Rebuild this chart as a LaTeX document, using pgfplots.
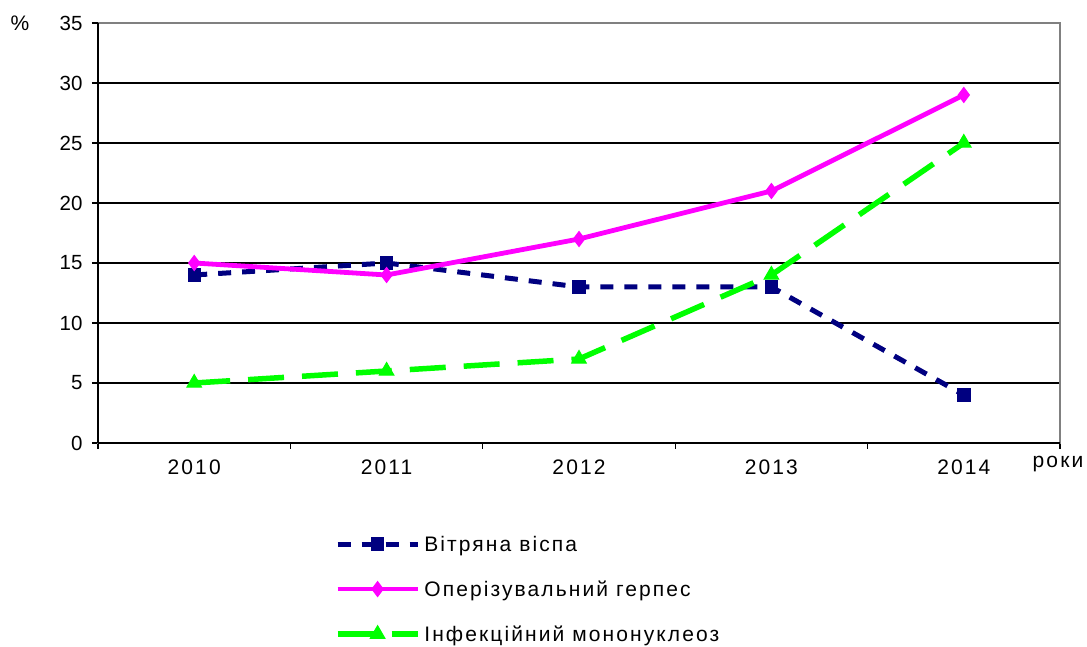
\documentclass[border=0pt]{standalone}
\usepackage{pgfplots}
\pgfplotsset{compat=1.18}
\usepackage{fontspec}
\setmainfont{Liberation Sans}
\newfontfamily\spacedx{Liberation Sans}[LetterSpace=10]
\newfontfamily\spacedl{Liberation Sans}[LetterSpace=10]
\definecolor{navyc}{RGB}{0,0,128}
\definecolor{magc}{RGB}{255,0,255}
\definecolor{grnc}{RGB}{0,255,0}
\begin{document}
\begin{tikzpicture}[x=1pt,y=1pt]
\path[use as bounding box] (0,0) rectangle (1087,647);
\begin{axis}[at={(98pt,204pt)}, anchor=south west, scale only axis,
  width=962pt, height=420pt,
  xmin=-0.5, xmax=4.5, ymin=0, ymax=35,
  xtick={0,...,4}, xticklabels={2010,2011,2012,2013,2014},
  major x tick style={draw=none},
  minor xtick={-0.5,0.5,...,4.5},
  ytick={0,5,...,30}, extra y ticks={35}, extra y tick style={grid=none},
  ymajorgrids, grid style={black, line width=1.3pt},
  axis line style={gray, line width=1.3pt},
  tick align=outside, xtick pos=bottom, ytick pos=left,
  major tick length=6pt, minor tick length=6pt,
  tick style={black, line width=1.3pt},
  /pgf/number format/assume math mode=true,
  yticklabel style={font=\fontsize{20.5}{24}\selectfont, xshift=-6pt},
  xticklabel style={font=\spacedx\fontsize{21}{24}\selectfont, yshift=-7pt},
  legend style={at={(0.246,-0.211)}, anchor=north west, draw=none, fill=none,
    font=\spacedl\fontsize{21}{24}\selectfont, row sep=24pt, cells={anchor=west},
    inner xsep=0pt, /tikz/every odd column/.append style={column sep=2pt}},
  legend cell align=left,
  legend image code/.code={\draw[mark repeat=2,mark phase=2,#1] plot coordinates {(0pt,0pt) (40pt,0pt) (80pt,0pt)};},
  clip=false,
]
\draw[black, line width=1.3pt] (rel axis cs:0,0) -- (rel axis cs:0,1);
\draw[black, line width=1.3pt] (rel axis cs:0,0) -- (rel axis cs:1,0);
\addplot[navyc, line width=5pt, dash pattern=on 13pt off 11pt, mark=square*, mark size=6.2pt, mark options={solid, line width=1pt}]
  coordinates {(0,14) (1,15) (2,13) (3,13) (4,4)};
\addlegendentry{Вітряна віспа}
\addplot[magc, line width=4.8pt, mark=diamond*, mark size=7.5pt, mark options={solid, line width=1pt}]
  coordinates {(0,15) (1,14) (2,17) (3,21) (4,29)};
\addlegendentry{Оперізувальний герпес}
\addplot[grnc, line width=5.5pt, dash pattern=on 36pt off 18pt, mark=triangle*, mark size=8.5pt, mark options={solid, line width=1pt}]
  coordinates {(0,5) (1,6) (2,7) (3,14) (4,25)};
\addlegendentry{Інфекційний мононуклеоз}
\end{axis}
\node[font=\fontsize{21}{24}\selectfont] at (20,623.5) {\%};
\node[font=\spacedl\fontsize{21}{24}\selectfont, anchor=base] at (1058,179) {роки};
\end{tikzpicture}
\end{document}
